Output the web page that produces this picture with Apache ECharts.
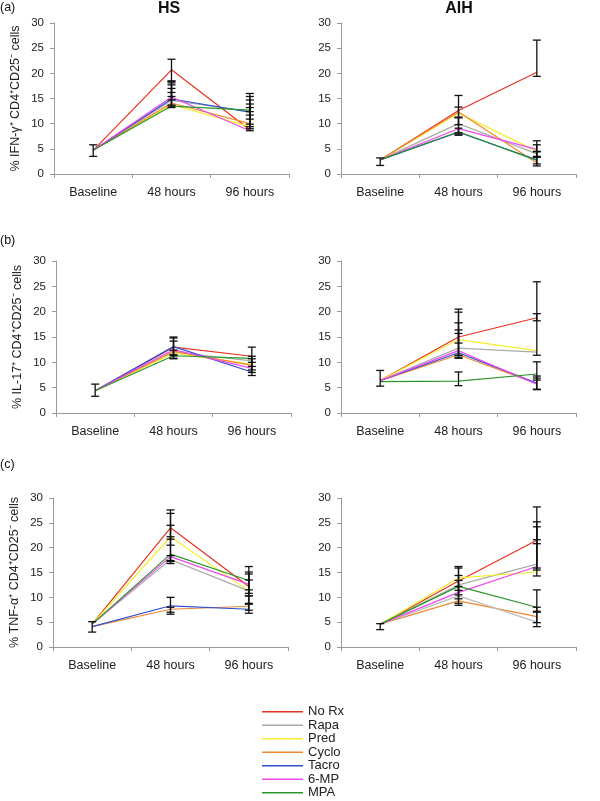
<!DOCTYPE html>
<html>
<head>
<meta charset="utf-8">
<script src="https://cdn.jsdelivr.net/npm/echarts@6/dist/echarts.min.js"></script>
<style>
  html, body { margin: 0; background: #fff; }
  #chart { width: 600px; height: 801px; }
</style>
</head>
<body>
<div id="chart"></div>
<script>
var categories = ['Baseline', '48 hours', '96 hours'];
var treatments = ['No Rx', 'Rapa', 'Pred', 'Cyclo', 'Tacro', '6-MP', 'MPA'];
var colors = ['#e8321e', '#ababab', '#f4ef2a', '#f08a32', '#2f4fcf', '#ee48ee', '#2a962a'];

// values per treatment (same order as treatments), one row per treatment
var ifnHS = [
  [4.7, 20.7, 8.8],
  [4.7, 14.6, 12.4],
  [4.7, 13.8, 9.4],
  [4.7, 14.1, 10.0],
  [4.7, 14.9, 12.3],
  [4.7, 15.3, 8.6],
  [4.7, 13.5, 12.7]
];
var ifnAIH = [
  [2.8, 12.6, 20.2],
  [2.8, 10.0, 4.0],
  [2.8, 12.1, 4.5],
  [2.8, 12.3, 2.2],
  [2.8, 8.3, 2.8],
  [2.8, 9.0, 4.9],
  [2.8, 8.4, 2.7]
];
var il17HS = [
  [4.4, 13.0, 11.2],
  [4.4, 12.0, 10.3],
  [4.4, 11.8, 9.6],
  [4.4, 12.2, 9.4],
  [4.4, 13.1, 8.1],
  [4.4, 12.5, 8.8],
  [4.4, 11.3, 10.8]
];
var il17AIH = [
  [6.4, 15.0, 18.8],
  [6.4, 12.8, 12.0],
  [6.4, 14.5, 12.3],
  [6.4, 11.5, 5.8],
  [6.4, 11.9, 5.9],
  [6.4, 12.3, 5.7],
  [6.2, 6.3, 7.7]
];
var tnfHS = [
  [4.6, 24.0, 12.2],
  [4.6, 17.6, 11.3],
  [4.6, 22.2, 11.3],
  [4.1, 7.6, 8.2],
  [4.1, 8.3, 7.6],
  [4.6, 18.2, 12.6],
  [4.6, 18.7, 13.4]
];
var tnfAIH = [
  [4.6, 13.3, 21.5],
  [4.6, 12.5, 16.7],
  [4.6, 13.9, 15.1],
  [4.6, 9.3, 6.1],
  [4.6, 10.3, 5.0],
  [4.6, 11.0, 16.2],
  [4.6, 12.2, 8.0]
];

// error bars: [category index, low, high]
var ifnHSBars = [[0, 3.5, 5.8], [1, 18.4, 22.8], [1, 13.7, 18.1], [1, 14.7, 17.7], [1, 15.4, 18.5], [1, 13.5, 16.2], [1, 13.2, 17.0],
  [2, 9.0, 16.0], [2, 8.6, 13.2], [2, 9.9, 14.7], [2, 10.9, 15.4], [2, 11.7, 13.9], [2, 9.4, 12.4]];
var ifnAIHBars = [[0, 1.7, 3.2], [1, 11.2, 15.6], [1, 9.8, 13.3], [1, 7.7, 11.3], [1, 7.9, 9.1], [1, 8.2, 11.2],
  [2, 19.4, 26.6], [2, 1.6, 6.6], [2, 3.3, 5.8], [2, 2.0, 4.5], [2, 3.5, 4.4]];
var il17HSBars = [[0, 3.3, 5.7], [1, 11.3, 15.0], [1, 10.8, 14.8], [1, 11.5, 14.2], [1, 10.7, 12.4],
  [2, 8.5, 13.0], [2, 7.4, 11.2], [2, 8.0, 10.7], [2, 9.2, 10.0]];
var il17AIHBars = [[0, 5.3, 8.4], [1, 11.3, 20.5], [1, 13.8, 19.9], [1, 10.8, 17.8], [1, 11.4, 16.4], [1, 10.9, 15.7], [1, 5.4, 8.1],
  [2, 11.4, 25.9], [2, 18.2, 19.6], [2, 4.6, 10.1], [2, 6.5, 7.3], [2, 4.7, 6.9]];
var tnfHSBars = [[0, 3.0, 5.1], [1, 21.7, 27.6], [1, 20.5, 26.9], [1, 17.4, 24.5], [1, 16.8, 22.2], [1, 17.2, 18.4], [1, 6.6, 10.0], [1, 7.0, 8.0],
  [2, 10.3, 16.2], [2, 8.6, 15.1], [2, 10.8, 14.7], [2, 11.5, 13.5], [2, 6.8, 10.3], [2, 7.4, 8.8]];
var tnfAIHBars = [[0, 3.5, 4.7], [1, 10.5, 16.2], [1, 9.7, 15.9], [1, 8.4, 14.4], [1, 11.4, 13.4], [1, 8.8, 12.2],
  [2, 14.3, 28.2], [2, 15.5, 25.2], [2, 15.9, 24.2], [2, 20.8, 21.6], [2, 4.1, 11.5], [2, 4.9, 8.0], [2, 7.0, 7.2]];

var font = "'Liberation Sans', Arial, sans-serif";

var panels = [
  { data: ifnHS, bars: ifnHSBars, left: 54, top: 23, height: 151, yName: '% IFN-γ⁺ CD4⁺CD25⁻ cells' },
  { data: ifnAIH, bars: ifnAIHBars, left: 341, top: 23, height: 151 },
  { data: il17HS, bars: il17HSBars, left: 56, top: 261, height: 152, yName: '% IL-17⁺ CD4⁺CD25⁻ cells' },
  { data: il17AIH, bars: il17AIHBars, left: 341, top: 261, height: 152 },
  { data: tnfHS, bars: tnfHSBars, left: 53, top: 498, height: 149, yName: '% TNF-α⁺ CD4⁺CD25⁻ cells' },
  // Tacro drawn light grey in this panel, as in the source figure
  { data: tnfAIH, bars: tnfAIHBars, left: 341, top: 498, height: 149, tint: { 4: '#bdbdbd' } }
];

var grids = [], xAxes = [], yAxes = [], series = [];
var axisGrey = '#9a9a9a';

panels.forEach(function (p, i) {
  grids.push({ left: p.left, top: p.top, width: 235, height: p.height });
  xAxes.push({
    type: 'category', gridIndex: i, data: categories, boundaryGap: true,
    axisLine: { lineStyle: { color: axisGrey, width: 1 } },
    axisTick: { show: true, length: 4, lineStyle: { color: axisGrey } },
    axisLabel: { color: '#222', fontSize: 12.5, fontFamily: font, margin: 12 }
  });
  yAxes.push({
    type: 'value', gridIndex: i, min: 0, max: 30, interval: 5,
    name: p.yName || '', nameLocation: 'middle', nameGap: 32, nameRotate: 90,
    nameTextStyle: { color: '#222', fontSize: 12.5, fontFamily: font },
    axisLine: { show: true, lineStyle: { color: axisGrey, width: 1 } },
    axisTick: { show: true, length: 4, lineStyle: { color: axisGrey } },
    axisLabel: { color: '#222', fontSize: 11.5, fontFamily: font, margin: 10 },
    splitLine: { show: false }
  });
  treatments.forEach(function (name, k) {
    var c = (p.tint && p.tint[k]) || colors[k];
    series.push({
      type: 'line', name: name, xAxisIndex: i, yAxisIndex: i,
      data: p.data[k], symbol: 'none', silent: true,
      lineStyle: { color: c, width: 1.2 },
      itemStyle: { color: colors[k] },
      z: 2
    });
  });
  series.push({
    type: 'custom', xAxisIndex: i, yAxisIndex: i, data: p.bars, z: 5, silent: true,
    encode: { x: 0, y: [1, 2] },
    renderItem: function (params, api) {
      var lo = api.coord([api.value(0), api.value(1)]);
      var hi = api.coord([api.value(0), api.value(2)]);
      var w = 4;
      var st = { stroke: '#111', lineWidth: 1.3 };
      return {
        type: 'group',
        children: [
          { type: 'line', shape: { x1: lo[0], y1: lo[1], x2: hi[0], y2: hi[1] }, style: st },
          { type: 'line', shape: { x1: lo[0] - w, y1: lo[1], x2: lo[0] + w, y2: lo[1] }, style: st },
          { type: 'line', shape: { x1: hi[0] - w, y1: hi[1], x2: hi[0] + w, y2: hi[1] }, style: st }
        ]
      };
    }
  });
});

var labels = [
  { text: '(a)', x: 0, y: 8, size: 12.5, bold: false, align: 'left' },
  { text: '(b)', x: 0, y: 241, size: 12.5, bold: false, align: 'left' },
  { text: '(c)', x: 0, y: 465, size: 12.5, bold: false, align: 'left' },
  { text: 'HS', x: 169, y: 9, size: 16, bold: true, align: 'center' },
  { text: 'AIH', x: 459, y: 9, size: 16, bold: true, align: 'center' }
];

var chart = echarts.init(document.getElementById('chart'), null, { renderer: 'canvas' });
chart.setOption({
  animation: false,
  backgroundColor: '#fff',
  grid: grids,
  xAxis: xAxes,
  yAxis: yAxes,
  series: series,
  legend: {
    data: treatments, orient: 'vertical', left: 262, top: 705,
    itemWidth: 41, itemHeight: 1.5, itemGap: 0, icon: 'rect', padding: 0,
    textStyle: { color: '#222', fontSize: 13, fontFamily: font, lineHeight: 13.5 },
    selectedMode: false
  },
  graphic: labels.map(function (l) {
    return {
      type: 'text', x: l.x, y: l.y, silent: true,
      style: {
        text: l.text, fill: '#111', font: (l.bold ? 'bold ' : '') + l.size + 'px ' + font,
        textAlign: l.align, textVerticalAlign: 'middle'
      }
    };
  })
});
</script>
</body>
</html>
